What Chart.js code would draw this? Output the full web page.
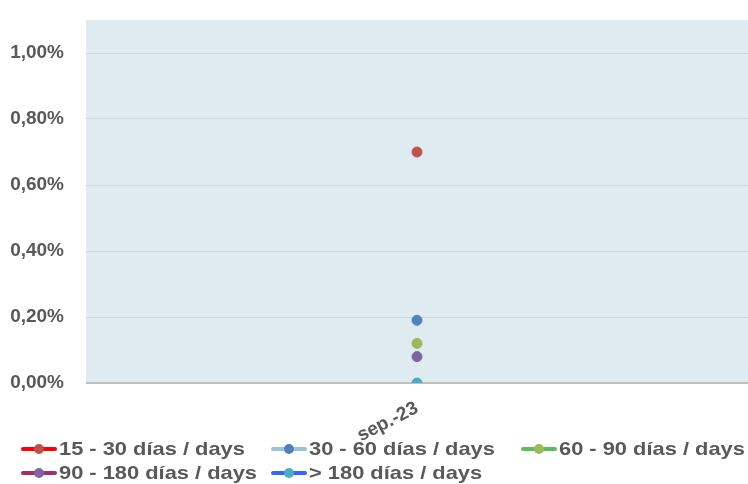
<!DOCTYPE html>
<html>
<head>
<meta charset="utf-8">
<script src="https://cdn.jsdelivr.net/npm/chart.js@4"></script>
<style>
  html, body { margin: 0; padding: 0; background: #fff; }
  #wrap { width: 748px; height: 484px; position: relative; }
</style>
</head>
<body>
<div id="wrap"><canvas id="grafica"></canvas></div>
<script>
// datos
const categorias = ['sep.-23'];
const series = ['15 - 30 días / days', '30 - 60 días / days', '60 - 90 días / days', '90 - 180 días / days', '> 180 días / days'];
const valores15a30 = [0.70];
const valores30a60 = [0.19];
const valores60a90 = [0.12];
const valores90a180 = [0.08];
const valoresMas180 = [0.00];
const ticksY = [0, 0.2, 0.4, 0.6, 0.8, 1.0];

const coloresPunto = ['#C0504D', '#4F81BD', '#9BBB59', '#8064A2', '#4BACC6'];
const coloresLinea = ['#FF0000', '#9DC3D6', '#5CBD5C', '#A0306A', '#3366FF'];
const fuente = '"Liberation Sans", Arial, sans-serif';
const grisTexto = '#595959';

const valores = [valores15a30, valores30a60, valores60a90, valores90a180, valoresMas180];

// fondo del área de trazado
const fondoArea = {
    id: 'fondoArea',
    beforeDraw(chart) {
        const { ctx, chartArea: a } = chart;
        ctx.save();
        ctx.fillStyle = '#DEEBF1';
        ctx.fillRect(a.left, a.top, a.right - a.left, a.bottom - a.top);
        ctx.restore();
    }
};

// leyenda en rejilla (3 columnas), texto algo ensanchado como en el original
const leyenda = {
    id: 'leyendaRejilla',
    afterDraw(chart) {
        const ctx = chart.ctx;
        ctx.save();
        ctx.font = 'bold 19px ' + fuente;
        ctx.textBaseline = 'middle';
        chart.data.datasets.forEach((ds, i) => {
            const col = i % 3, fila = Math.floor(i / 3);
            const x = 21 + col * 250;
            const y = 449 + fila * 24;
            ctx.strokeStyle = coloresLinea[i];
            ctx.lineWidth = 4;
            ctx.lineCap = 'round';
            ctx.beginPath();
            ctx.moveTo(x + 2, y);
            ctx.lineTo(x + 34, y);
            ctx.stroke();
            ctx.fillStyle = coloresPunto[i];
            ctx.beginPath();
            ctx.arc(x + 18, y, 5, 0, Math.PI * 2);
            ctx.fill();
            ctx.fillStyle = grisTexto;
            ctx.save();
            ctx.translate(x + 38, y + 1);
            ctx.scale(1.15, 1);
            ctx.fillText(ds.label, 0, 0);
            ctx.restore();
        });
        ctx.restore();
    }
};

new Chart(document.getElementById('grafica').getContext('2d'), {
    type: 'line',
    data: {
        labels: categorias,
        datasets: series.map((s, i) => ({
            label: s,
            data: valores[i],
            borderColor: coloresLinea[i],
            backgroundColor: coloresPunto[i],
            pointBackgroundColor: coloresPunto[i],
            pointBorderColor: coloresPunto[i],
            pointRadius: 5,
            showLine: false
        }))
    },
    options: {
        responsive: true,
        maintainAspectRatio: false,
        animation: false,
        layout: { autoPadding: false, padding: { top: 20, right: 0, left: 0, bottom: 0 } },
        plugins: {
            legend: { display: false },
            tooltip: { enabled: false }
        },
        scales: {
            x: {
                offset: true,
                grid: { display: false },
                border: { display: false },
                ticks: {
                    color: grisTexto,
                    font: { family: fuente, size: 19, weight: 'bold' },
                    minRotation: 27,
                    maxRotation: 27,
                    padding: 6
                },
                afterFit(scale) {
                    scale.height = 101;
                    scale.paddingLeft = 0;
                    scale.paddingRight = 0;
                }
            },
            y: {
                min: 0,
                max: 1.1,
                afterBuildTicks(scale) { scale.ticks = ticksY.map(v => ({ value: v })); },
                grid: {
                    drawTicks: false,
                    color: c => c.tick && c.tick.value === 0 ? '#BFBFBF' : '#CCD6DC',
                    lineWidth: c => c.tick && c.tick.value === 0 ? 2 : 1
                },
                border: { display: false },
                ticks: {
                    color: grisTexto,
                    font: { family: fuente, size: 19, weight: 'bold' },
                    padding: 22,
                    callback: v => v.toFixed(2).replace('.', ',') + '%'
                },
                afterFit(scale) {
                    scale.width = 86;
                    scale.paddingTop = 0;
                    scale.paddingBottom = 0;
                }
            }
        }
    },
    plugins: [fondoArea, leyenda]
});
</script>
</body>
</html>
